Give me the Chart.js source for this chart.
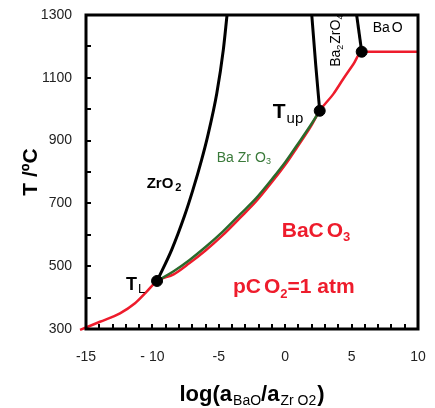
<!DOCTYPE html>
<html><head><meta charset="utf-8">
<script src="https://cdn.jsdelivr.net/npm/chart.js@4/dist/chart.umd.min.js"></script>
<style>html,body{margin:0;padding:0;background:#fff}#wrap{width:435px;height:408px;position:relative}</style>
</head><body><div id="wrap"><canvas id="c"></canvas></div>
<script>
// ---- data ----
const xTickValues = [-15, -10, -5, 0, 5, 10];
const xTickLabels = ['-15', '- 10', '-5', '0', '5', '10'];
const yTickValues = [300, 500, 700, 900, 1100, 1300];
const yTickLabels = ['300', '500', '700', '900', '1100', '1300'];

// BaCO3 stability boundary (red)
const baco3LogA = [-15.45, -13.95, -12.44, -11.31, -10.43, -9.65, -8.4, -7.2, -6.0, -4.7, -3.4, -2.2, -1.0, 0.0, 0.9, 1.9, 2.6, 3.62, 4.38, 5.13, 5.76, 10];
const baco3T    = [297, 323, 350, 382, 419, 453, 474, 510, 550, 599, 654, 706, 768, 823, 879, 943, 995, 1048, 1097, 1143, 1183, 1183];
// BaZrO3 boundary (green)
const bazro3LogA = [-9.65, -8.4, -7.2, -6.0, -4.7, -3.4, -2.2, -1.0, 0.0, 0.9, 1.9, 2.6];
const bazro3T    = [453, 484, 520, 561, 610, 665, 716, 777, 831, 886, 948, 995];
// ZrO2 / BaZrO3 boundary (black)
const zro2LogA = [-9.65, -8.55, -7.6, -6.95, -6.3, -5.85, -5.15, -4.66, -4.38];
const zro2T    = [453, 552, 658, 743, 838, 912, 1051, 1189, 1300];
// BaZrO3 / Ba2ZrO4 boundary
const ba2zro4LogA = [2.6, 2.3, 2.0];
const ba2zro4T    = [995, 1140, 1300];
// Ba2ZrO4 / BaO boundary
const baoLogA = [5.76, 5.38];
const baoT    = [1183, 1300];
// invariant points (T_L, T_up, BaO corner)
const pointsLogA = [-9.65, 2.6, 5.76];
const pointsT    = [453, 995, 1183];

const pts = (xs, ys) => xs.map((x, i) => ({x: x, y: ys[i]}));

const FONT = '"Liberation Sans", Arial, Helvetica, sans-serif';
const RED = '#ee1c2c';
const GREEN = '#2b6a2b';

// annotation anchors in data units (logA, T) : left edge, baseline
const annotations = [
  {x: -10.43, y: 749, color: '#000', parts: [['ZrO', 'bold 15px', 0, 0], ['2', 'bold 11px', 3, 2]]},
  {x: -5.16, y: 833, color: '#3a7a3a', parts: [['Ba', '14px', 0, 0], ['Zr', '14px', 0, 4], ['O', '14px', 0, 4], ['3', '9px', 2, 0]]},
  {x: -0.94, y: 972, color: '#000', parts: [['T', 'bold 21px', 0, 0], ['up', '15px', 5, 1]]},
  {x: -11.99, y: 424, color: '#000', parts: [['T', 'bold 18px', 0, 0], ['L', '13px', 3, 1]]},
  {x: 6.59, y: 1247, color: '#000', parts: [['Ba', '14px', 0, 0], ['O', '14px', 0, 2]]},
  {x: -0.26, y: 593, color: RED, parts: [['BaC', 'bold 21px', 0, 0], ['O', 'bold 21px', 0, 3], ['3', 'bold 13px', 4, 0]]},
  {x: -3.93, y: 415, color: RED, parts: [['pC', 'bold 21px', 0, 0], ['O', 'bold 21px', 0, 3], ['2', 'bold 13px', 5, 0], ['=1 atm', 'bold 21px', 0, 0]]},
];
const rotatedAnn = {x: 4.13, y: 1135, color: '#000', parts: [['Ba', '14px', 0, 0], ['2', '9px', 3, 0], ['ZrO', '14px', 0, 1], ['4', '9px', 3, 0]]};

function drawRich(ctx, x, y, parts, color) {
  ctx.fillStyle = color;
  ctx.textAlign = 'left';
  ctx.textBaseline = 'alphabetic';
  let cx = x;
  for (const [t, f, dy, dx] of parts) {
    cx += dx;
    ctx.font = f + ' ' + FONT;
    ctx.fillText(t, cx, y + dy);
    cx += ctx.measureText(t).width;
  }
  return cx - x;
}
function richWidth(ctx, parts) {
  let w = 0;
  for (const [t, f, dy, dx] of parts) { ctx.font = f + ' ' + FONT; w += dx + ctx.measureText(t).width; }
  return w;
}

const decor = {
  id: 'decor',
  afterDatasetsDraw(chart) {
    const ctx = chart.ctx, xs = chart.scales.x, ys = chart.scales.y, a = chart.chartArea;
    ctx.save();
    for (const an of annotations) drawRich(ctx, xs.getPixelForValue(an.x), ys.getPixelForValue(an.y), an.parts, an.color);
    ctx.save();
    ctx.translate(xs.getPixelForValue(rotatedAnn.x), ys.getPixelForValue(rotatedAnn.y));
    ctx.rotate(-Math.PI / 2);
    drawRich(ctx, 0, 0, rotatedAnn.parts, rotatedAnn.color);
    ctx.restore();
    // frame
    ctx.strokeStyle = '#000';
    ctx.lineWidth = 3;
    ctx.strokeRect(a.left, a.top, a.right - a.left, a.bottom - a.top);
    // inward ticks
    ctx.lineWidth = 2;
    ctx.beginPath();
    for (let v = -14; v <= 9; v++) {
      const p = Math.round(xs.getPixelForValue(v));
      ctx.moveTo(p, a.bottom); ctx.lineTo(p, a.bottom - 5);
    }
    for (let v = 400; v <= 1200; v += 100) {
      const p = Math.round(ys.getPixelForValue(v));
      ctx.moveTo(a.left, p); ctx.lineTo(a.left + 5, p);
    }
    ctx.stroke();
    // axis titles
    const xt = [['log(a', 'bold 22px', 0, 0], ['BaO', '14px', 4, 1], ['/a', 'bold 22px', 0, 0], ['Zr O2', '14px', 4, 1], [')', 'bold 22px', 0, 1]];
    const w = richWidth(ctx, xt);
    drawRich(ctx, (a.left + a.right) / 2 - w / 2, a.bottom + 72, xt, '#000');
    ctx.save();
    ctx.translate(37, (a.top + a.bottom) / 2);
    ctx.rotate(-Math.PI / 2);
    ctx.font = 'bold 21px ' + FONT;
    ctx.textAlign = 'center';
    ctx.textBaseline = 'alphabetic';
    ctx.fillStyle = '#000';
    ctx.fillText('T /\u00baC', 0, 0);
    ctx.restore();
    ctx.restore();
  }
};

const lineDs = (data, color, order, extra) => Object.assign({
  data: data, showLine: true, borderColor: color, backgroundColor: color,
  borderWidth: 2.5, pointRadius: 0, pointHoverRadius: 0, cubicInterpolationMode: 'monotone', fill: false, order: order
}, extra || {});

new Chart(document.getElementById('c'), {
  type: 'scatter',
  data: {
    datasets: [
      {data: pts(pointsLogA, pointsT), showLine: false, pointRadius: 5.5, pointBackgroundColor: '#000', pointBorderColor: '#000', order: 0},
      lineDs(pts(bazro3LogA, bazro3T), GREEN, 1),
      lineDs(pts(baco3LogA, baco3T), RED, 2, {clip: false}),
      lineDs(pts(zro2LogA, zro2T), '#000', 3, {borderWidth: 3}),
      lineDs(pts(ba2zro4LogA, ba2zro4T), '#000', 3, {borderWidth: 3, cubicInterpolationMode: 'default', tension: 0}),
      lineDs(pts(baoLogA, baoT), '#000', 3, {borderWidth: 3, cubicInterpolationMode: 'default', tension: 0}),
    ]
  },
  plugins: [decor],
  options: {
    responsive: true, maintainAspectRatio: false, devicePixelRatio: 1, animation: false,
    layout: {padding: {top: 15, right: 17, left: 0, bottom: 0}},
    plugins: {legend: {display: false}, tooltip: {enabled: false}},
    scales: {
      x: {
        type: 'linear', min: -15, max: 10,
        afterFit: s => { s.height = 79; s.paddingLeft = 0; s.paddingRight = 0; },
        grid: {display: false, drawTicks: false}, border: {display: false},
        ticks: {stepSize: 5, padding: 20, color: '#222', font: {family: FONT, size: 14},
          callback: v => { const i = xTickValues.indexOf(v); return i >= 0 ? xTickLabels[i] : ''; }}
      },
      y: {
        type: 'linear', min: 300, max: 1300,
        afterFit: s => { s.width = 86; s.paddingTop = 0; s.paddingBottom = 0; },
        grid: {display: false, drawTicks: false}, border: {display: false},
        ticks: {stepSize: 200, padding: 14, color: '#222', font: {family: FONT, size: 14},
          callback: v => { const i = yTickValues.indexOf(v); return i >= 0 ? yTickLabels[i] : ''; }}
      }
    }
  }
});
</script></body></html>
